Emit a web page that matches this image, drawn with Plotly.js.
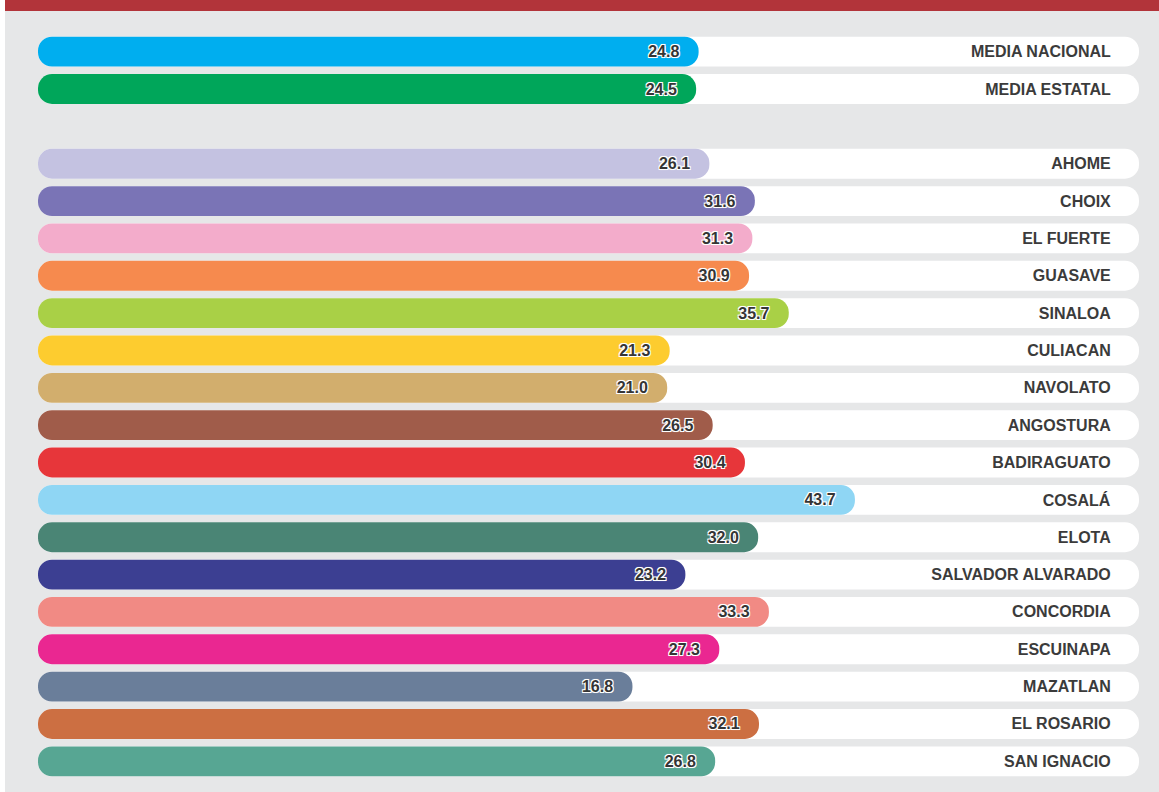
<!DOCTYPE html>
<html>
<head>
<meta charset="utf-8">
<script src="https://cdn.plot.ly/plotly-3.0.1.min.js"></script>
<style>
  html, body { margin: 0; padding: 0; background: #ffffff; width: 1159px; height: 792px; overflow: hidden; }
  #chart { position: absolute; left: 5px; top: 0; width: 1154px; height: 792px; }
  #band { position: absolute; left: 5px; top: 0; width: 1154px; height: 11px; background: #b2343a; z-index: 10; }
</style>
</head>
<body>
<div id="chart"></div>
<div id="band"></div>
<script>
// ---- data ----
const categories = ['MEDIA NACIONAL', 'MEDIA ESTATAL', 'AHOME', 'CHOIX', 'EL FUERTE', 'GUASAVE', 'SINALOA',
  'CULIACAN', 'NAVOLATO', 'ANGOSTURA', 'BADIRAGUATO', 'COSALÁ', 'ELOTA', 'SALVADOR ALVARADO',
  'CONCORDIA', 'ESCUINAPA', 'MAZATLAN', 'EL ROSARIO', 'SAN IGNACIO'];
const values = [24.8, 24.5, 26.1, 31.6, 31.3, 30.9, 35.7, 21.3, 21.0, 26.5, 30.4, 43.7, 32.0, 23.2,
  33.3, 27.3, 16.8, 32.1, 26.8];
const colors = ['#00aeef', '#00a65a', '#c4c2e1', '#7a74b6', '#f3accb', '#f68a4e', '#a9d046',
  '#fdcc2f', '#d2ae6d', '#a05c4a', '#e7363a', '#8fd6f4', '#4a8575', '#3c3f92',
  '#f18a84', '#ea2791', '#6a7e9a', '#cc6f42', '#57a693'];
const gapLabel = ' ';
const rowOrder = [categories[0], categories[1], gapLabel].concat(categories.slice(2));

// ---- scale (hidden axis) ----
const axisStart = -55.08;
const axisEnd = 78.05;
const nb = '\u00a0';

const labelFont = { family: 'Liberation Sans, Arial, sans-serif', size: 16, color: '#3b3b3b', weight: 700 };
const valueFont = {
  family: 'Liberation Sans, Arial, sans-serif', size: 16, color: '#353535', weight: 700,
  shadow: '-1px -1px 0 #fff, 1px -1px 0 #fff, -1px 1px 0 #fff, 1px 1px 0 #fff, 0 0 2px #fff'
};

const track = {
  type: 'bar', orientation: 'h',
  y: categories,
  base: categories.map(() => axisStart),
  x: categories.map(() => axisEnd - axisStart),
  marker: { color: '#ffffff', cornerradius: '50%', opacity: 1, line: { width: 0 } },
  text: categories.map(c => c + nb.repeat(5)),
  textposition: 'inside', insidetextanchor: 'end', textangle: 0,
  insidetextfont: labelFont, textfont: labelFont,
  hoverinfo: 'skip'
};

const bars = {
  type: 'bar', orientation: 'h',
  y: categories,
  base: categories.map(() => axisStart),
  x: values.map(v => v - axisStart),
  marker: { color: colors, cornerradius: '50%', opacity: 1, line: { width: 0 } },
  text: values.map(v => v.toFixed(1) + nb.repeat(3)),
  textposition: 'inside', insidetextanchor: 'end', textangle: 0,
  insidetextfont: valueFont, textfont: valueFont,
  hoverinfo: 'skip'
};

const layout = {
  width: 1154, height: 792,
  margin: { l: 33, r: 20, t: 33, b: 12, pad: 0 },
  paper_bgcolor: '#e6e7e8', plot_bgcolor: '#e6e7e8',
  barmode: 'overlay', bargap: 0.2,
  showlegend: false,
  xaxis: { range: [axisStart, axisEnd], visible: false, fixedrange: true },
  yaxis: {
    type: 'category', categoryorder: 'array', categoryarray: rowOrder,
    range: [rowOrder.length - 0.5, -0.5], visible: false, fixedrange: true
  }
};

Plotly.newPlot('chart', [track, bars], layout, { staticPlot: true, displayModeBar: false });
</script>
</body>
</html>
